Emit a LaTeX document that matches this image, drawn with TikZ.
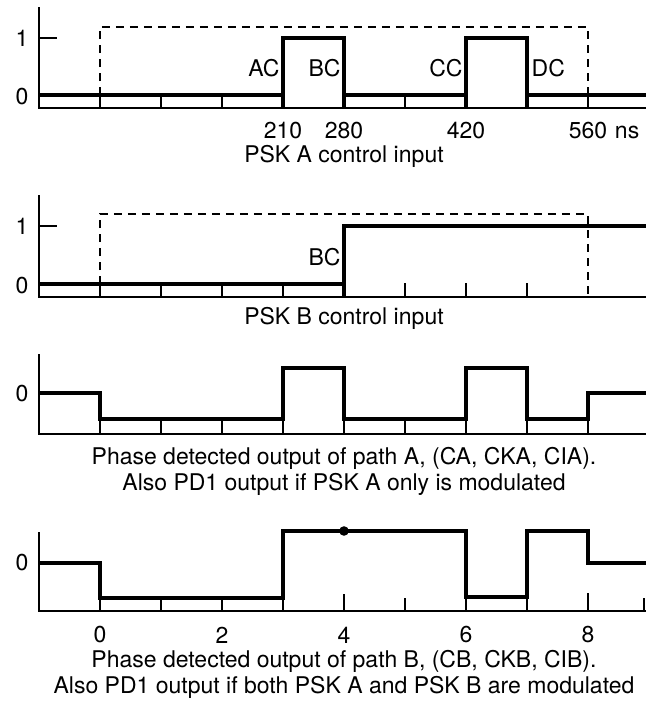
\documentclass[tikz,border=0pt]{standalone}
\usepackage{fontspec}
\setmainfont{TeX Gyre Heros}
\usetikzlibrary{calc}

\begin{document}
\begin{tikzpicture}[x=30.5pt, y=-0.5pt,
  axis/.style={black, line width=1.2pt},
  signal/.style={black, line width=1.6pt, line join=miter},
  tickline/.style={black, line width=0.7pt},
  gate/.style={black, line width=1.1pt, dash pattern=on 4pt off 3pt},
  lbl/.style={font=\fontsize{11.5}{13}\selectfont, inner sep=0pt}]
\useasboundingbox (-1.6393,0) rectangle (9.0492,703);

% PSK A control input
\draw[axis] (-1,7) -- (-1,108) -- (8.95,108);
\draw[axis] (-1,38) -- (-0.7,38);
\node[lbl] (ya1) at (-1.28,38) {1};
\node[lbl] (ya0) at (-1.28,97) {0};
\foreach \i in {0,1,2,5,8} \draw[tickline] (\i,108) -- (\i,95);
\foreach \i in {3,4,6,7} \draw[signal] (\i,108) -- (\i,95);
\draw[gate] (0,95) -- (0,27) -- (8,27) -- (8,95);
\draw[signal] (-1,95) -- (3,95) -- (3,38) -- (4,38) -- (4,95) -- (6,95) -- (6,38) -- (7,38) -- (7,95) -- (8.95,95);
\node[lbl, anchor=east] (ac) at (2.95,68) {AC};
\node[lbl, anchor=east] (bc) at (3.95,68) {BC};
\node[lbl, anchor=east] (cc) at (5.95,68) {CC};
\node[lbl, anchor=west] (dc) at (7.07,68) {DC};
\node[lbl] (t210) at (3,131) {210};
\node[lbl] (t280) at (4,131) {280};
\node[lbl] (t420) at (6,131) {420};
\node[lbl] (t560) at (8,131) {560};
\node[lbl, anchor=base west] (tns) at ([xshift=3.5pt]t560.base east) {ns};
\node[lbl] (capa) at (4,156) {PSK A control input};

% PSK B control input
\draw[axis] (-1,195) -- (-1,297) -- (8.95,297);
\draw[axis] (-1,226) -- (-0.7,226);
\node[lbl] (yb1) at (-1.28,226) {1};
\node[lbl] (yb0) at (-1.28,286) {0};
\foreach \i in {0,1,2,3} \draw[tickline] (\i,297) -- (\i,284);
\foreach \i in {5,6,7} \draw[tickline] (\i,297) -- (\i,283);
\draw[signal] (4,297) -- (4,284);
\draw[gate] (0,284) -- (0,214) -- (8,214) -- (8,297);
\draw[signal] (-1,284) -- (4,284) -- (4,226) -- (8.95,226);
\node[lbl, anchor=east] (bcb) at (3.95,257) {BC};
\node[lbl] (capb) at (4,318) {PSK B control input};

% phase detected output, path A
\draw[axis] (-1,354) -- (-1,434) -- (8.95,434);
\node[lbl] (yc0) at (-1.28,394) {0};
\foreach \i in {0,...,8} \draw[tickline] (\i,434) -- (\i,419);
\draw[signal] (-1,393) -- (0,393) -- (0,419) -- (3,419) -- (3,368) -- (4,368) -- (4,419) -- (6,419) -- (6,368) -- (7,368) -- (7,419) -- (8,419) -- (8,393) -- (8.95,393);
\node[lbl] (capc1) at (4,458) {Phase detected output of path A, (CA, CKA, CIA).};
\node[lbl] (capc2) at (4,484) {Also PD1 output if PSK A only is modulated};

% phase detected output, path B
\draw[axis] (-1,532) -- (-1,611) -- (8.95,611);
\node[lbl] (yd0) at (-1.28,563) {0};
\foreach \i in {0,1,2,3,6,7} \draw[tickline] (\i,611) -- (\i,598);
\foreach \i/\h in {4/594,5/598,8/593,8.92/598} \draw[tickline] (\i,611) -- (\i,\h);
\draw[signal] (-1,563) -- (0,563) -- (0,598) -- (3,598) -- (3,531) -- (6,531) -- (6,597) -- (7,597) -- (7,531) -- (8,531) -- (8,563) -- (8.95,563);
\fill (4,531) circle (2.4pt);
\foreach \i in {0,2,4,6,8} \node[lbl] (tk\i) at (\i,635) {\i};
\node[lbl] (capd1) at (4,661) {Phase detected output of path B, (CB, CKB, CIB).};
\node[lbl] (capd2) at (4,687) {Also PD1 output if both PSK A and PSK B are modulated};

\end{tikzpicture}
\end{document}
